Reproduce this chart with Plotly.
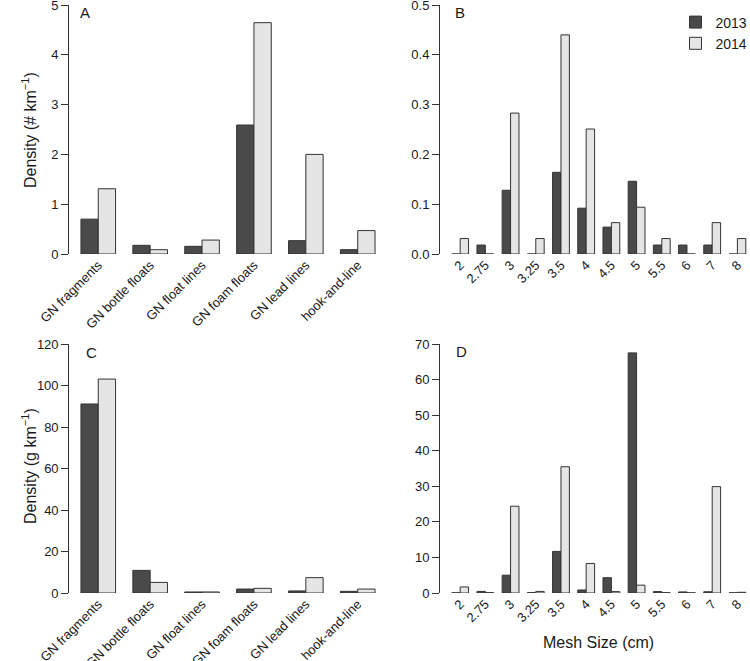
import plotly.graph_objects as go

# ---------------- data ----------------
gear_types = ["GN fragments", "GN bottle floats", "GN float lines",
              "GN foam floats", "GN lead lines", "hook-and-line"]
mesh_sizes = ["2", "2.75", "3", "3.25", "3.5", "4", "4.5", "5", "5.5", "6", "7", "8"]

# Panel A: density (# km-1) by gear type
a_2013 = [0.70, 0.174, 0.154, 2.59, 0.268, 0.087]
a_2014 = [1.31, 0.087, 0.28, 4.645, 2.00, 0.47]

# Panel B: density (# km-1) by mesh size
b_2013 = [0.0, 0.018, 0.128, 0.0, 0.164, 0.092, 0.054, 0.146, 0.018, 0.018, 0.018, 0.0]
b_2014 = [0.031, 0.0, 0.283, 0.031, 0.44, 0.251, 0.063, 0.094, 0.031, 0.0, 0.063, 0.031]

# Panel C: density (g km-1) by gear type
c_2013 = [91.1, 10.9, 0.5, 1.9, 1.0, 0.8]
c_2014 = [103.1, 5.1, 0.5, 2.25, 7.4, 1.9]

# Panel D: density (g km-1) by mesh size
d_2013 = [0.05, 0.45, 5.0, 0.1, 11.7, 0.85, 4.3, 67.5, 0.4, 0.3, 0.35, 0.05]
d_2014 = [1.7, 0.1, 24.4, 0.45, 35.5, 8.3, 0.4, 2.2, 0.1, 0.05, 29.9, 0.2]

years = ["2013", "2014"]

# ---------------- style ----------------
W, H = 750, 661
FONT = "Liberation Sans, Arial, Helvetica, sans-serif"
DARK = "#4a4a4a"
LIGHT = "#e5e5e5"
EDGE = "#333333"
AXC = "#333333"
TXT = "#1a1a1a"

def px_x(p):
    return p / W

def px_y(p):
    return 1 - p / H

fig = go.Figure()

panels = [
    # (x cats, 2013, 2014, axis suffix, show legend)
    (gear_types, a_2013, a_2014, "", False),
    (mesh_sizes, b_2013, b_2014, "2", True),
    (gear_types, c_2013, c_2014, "3", False),
    (mesh_sizes, d_2013, d_2014, "4", False),
]

for cats, v13, v14, sfx, show in panels:
    for yr, vals, col in ((years[0], v13, DARK), (years[1], v14, LIGHT)):
        fig.add_trace(go.Bar(
            x=cats, y=vals, name=yr, legendgroup=yr, showlegend=show,
            marker=dict(color=col, line=dict(color=EDGE, width=1)),
            xaxis="x" + sfx, yaxis="y" + sfx,
        ))

top_dom = [px_y(254), px_y(5)]
bot_dom = [px_y(593), px_y(344)]
left_dom = [px_x(69.2), px_x(386.8)]
right_dom = [px_x(440), 1.0]

def xax(domain, rng, anchor):
    return dict(domain=domain, range=rng, type="category", anchor=anchor,
                automargin=False, ticklabeloverflow="allow",
                showline=False, ticks="", showgrid=False, zeroline=False,
                tickangle=-45, tickfont=dict(size=13, color=TXT, family=FONT))

def yax(domain, rng, dtick, anchor, fmt=None):
    d = dict(domain=domain, range=rng, anchor=anchor, showline=True,
             automargin=False, ticklabeloverflow="allow",
             linecolor=AXC, linewidth=1, ticks="outside", ticklen=7,
             tickcolor=AXC, tickwidth=1, showgrid=False, zeroline=False,
             dtick=dtick, tick0=0, tickfont=dict(size=13, color=TXT, family=FONT))
    if fmt:
        d["tickformat"] = fmt
    return d

fig.update_layout(
    template="none",
    width=W, height=H,
    margin=dict(l=0, r=0, t=0, b=0, autoexpand=False),
    paper_bgcolor="white", plot_bgcolor="white",
    barmode="group", bargap=1/3, bargroupgap=0,
    font=dict(family=FONT, color=TXT, size=13),
    xaxis=xax(left_dom, [-0.56, 5.56], "y"),
    yaxis=yax(top_dom, [0, 5], 1, "x"),
    xaxis2=xax(right_dom, [-0.8, 11.5], "y2"),
    yaxis2=yax(top_dom, [0, 0.5], 0.1, "x2", ".1f"),
    xaxis3=xax(left_dom, [-0.56, 5.56], "y3"),
    yaxis3=yax(bot_dom, [0, 120], 20, "x3"),
    xaxis4=xax(right_dom, [-0.8, 11.5], "y4"),
    yaxis4=yax(bot_dom, [0, 70], 10, "x4"),
    legend=dict(x=px_x(675.5), y=px_y(6.5), xanchor="left", yanchor="top",
                font=dict(size=14, color=TXT, family=FONT),
                bgcolor="rgba(0,0,0,0)", tracegroupgap=0),
    showlegend=True,
    hovermode=False,
)

annots = [
    dict(text="A", x=px_x(85), y=px_y(13)),
    dict(text="B", x=px_x(460), y=px_y(13)),
    dict(text="C", x=px_x(91), y=px_y(352)),
    dict(text="D", x=px_x(461), y=px_y(351)),
]
for a in annots:
    fig.add_annotation(xref="paper", yref="paper", showarrow=False,
                       xanchor="center", yanchor="middle",
                       font=dict(size=15, color=TXT, family=FONT), **a)

fig.add_annotation(text="Density (# km<sup>−1</sup>)", xref="paper", yref="paper",
                   x=px_x(29), y=px_y(130), textangle=-90, showarrow=False,
                   xanchor="center", yanchor="middle",
                   font=dict(size=16, color=TXT, family=FONT))
fig.add_annotation(text="Density (g km<sup>−1</sup>)", xref="paper", yref="paper",
                   x=px_x(29), y=px_y(466), textangle=-90, showarrow=False,
                   xanchor="center", yanchor="middle",
                   font=dict(size=16, color=TXT, family=FONT))
fig.add_annotation(text="Mesh Size (cm)", xref="paper", yref="paper",
                   x=px_x(598), y=px_y(642), showarrow=False,
                   xanchor="center", yanchor="middle",
                   font=dict(size=16, color=TXT, family=FONT))

fig.write_html("out.html",
               config={"displayModeBar": False, "staticPlot": True},
               post_script="document.body.style.margin='0px';")
